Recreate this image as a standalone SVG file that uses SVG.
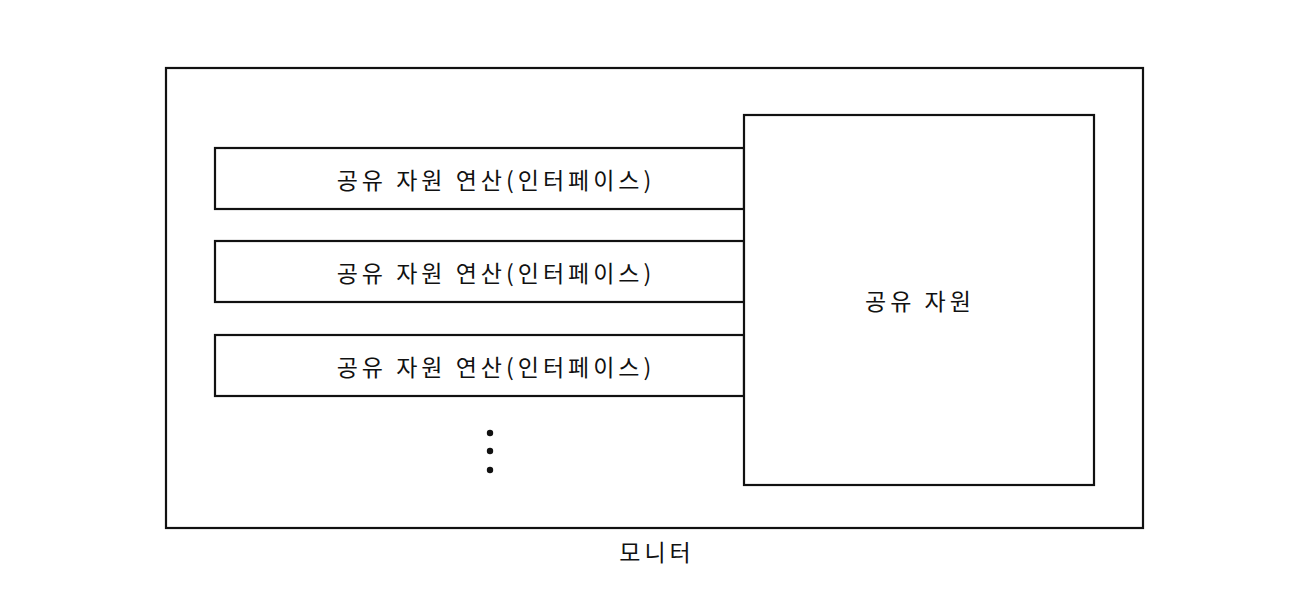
<svg xmlns="http://www.w3.org/2000/svg" width="1290" height="604" viewBox="0 0 1290 604">
<style>
.box{fill:#fff;stroke:#111;stroke-width:2.2}
.t{font-family:"Noto Sans CJK KR","Noto Sans",sans-serif;font-size:23px;fill:#111;text-anchor:middle;dominant-baseline:central;letter-spacing:4px}
</style>
<rect width="1290" height="604" fill="#fff"/>
<g id="monitor">
<rect class="box" x="166" y="68" width="977" height="460"/>
<text class="t" x="657" y="551">모니터</text>
</g>
<g id="op1">
<rect class="box" x="215" y="148" width="529" height="61"/>
<text class="t" x="496" y="179">공유 자원 연산(인터페이스)</text>
</g>
<g id="op2">
<rect class="box" x="215" y="241" width="529" height="61"/>
<text class="t" x="496" y="272">공유 자원 연산(인터페이스)</text>
</g>
<g id="op3">
<rect class="box" x="215" y="335" width="529" height="61"/>
<text class="t" x="496" y="366">공유 자원 연산(인터페이스)</text>
</g>
<g id="resource">
<rect class="box" x="744" y="115" width="350" height="370"/>
<text class="t" x="920" y="300">공유 자원</text>
</g>
<g id="ellipsis" fill="#111">
<circle cx="490" cy="433" r="3.2"/>
<circle cx="490" cy="451" r="3.2"/>
<circle cx="490" cy="470" r="3.2"/>
</g>
<g id="connectors"></g>
</svg>
